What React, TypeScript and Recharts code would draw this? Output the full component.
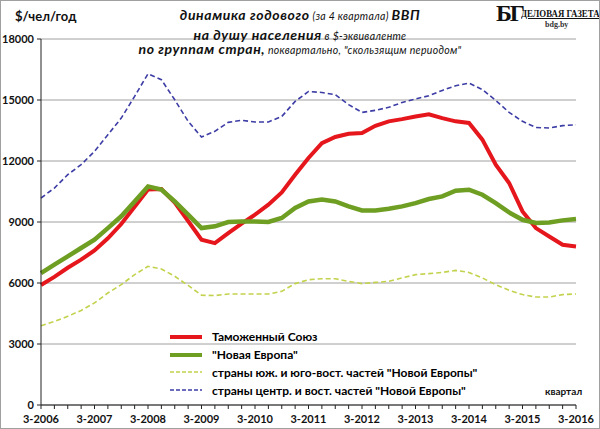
import React from "react";
import { LineChart, Line, XAxis, YAxis, CartesianGrid, Legend } from "recharts";

const quarters = [
  "3-2006", "4-2006", "1-2007", "2-2007", "3-2007", "4-2007", "1-2008", "2-2008",
  "3-2008", "4-2008", "1-2009", "2-2009", "3-2009", "4-2009", "1-2010", "2-2010",
  "3-2010", "4-2010", "1-2011", "2-2011", "3-2011", "4-2011", "1-2012", "2-2012",
  "3-2012", "4-2012", "1-2013", "2-2013", "3-2013", "4-2013", "1-2014", "2-2014",
  "3-2014", "4-2014", "1-2015", "2-2015", "3-2015", "4-2015", "1-2016", "2-2016",
  "3-2016",
];

const customsUnion = [
  5900, 6300, 6750, 7150, 7600, 8200, 8900, 9750, 10600, 10620,
  9950, 9050, 8130, 7960, 8450, 8920, 9360, 9850, 10450, 11320,
  12150, 12880, 13180, 13340, 13380, 13730, 13950, 14060, 14190, 14300,
  14110, 13950, 13870, 13050, 11820, 10920, 9520, 8700, 8290, 7880, 7800,
];

const newEurope = [
  6490, 6900, 7310, 7720, 8130, 8700, 9280, 10010, 10750, 10590,
  10010, 9360, 8700, 8790, 9000, 9030, 9030, 9000, 9200, 9690,
  10010, 10100, 10010, 9770, 9570, 9570, 9650, 9770, 9930, 10130,
  10260, 10540, 10590, 10340, 9930, 9470, 9110, 8950, 8980, 9080, 9150,
];

const southEast = [
  3900, 4110, 4360, 4650, 5020, 5510, 5920, 6410, 6820, 6690,
  6330, 5880, 5400, 5380, 5460, 5460, 5460, 5460, 5590, 5970,
  6160, 6210, 6210, 6080, 5970, 6030, 6080, 6250, 6410, 6460,
  6520, 6620, 6520, 6250, 5920, 5640, 5430, 5310, 5310, 5430, 5460,
];

const centralEast = [
  10180, 10670, 11330, 11820, 12470, 13290, 14110, 15180, 16290, 16000,
  15010, 13950, 13180, 13460, 13900, 14000, 13920, 13920, 14190, 14930,
  15420, 15370, 15260, 14770, 14390, 14490, 14640, 14880, 15050, 15210,
  15470, 15700, 15830, 15510, 14980, 14390, 13950, 13650, 13620, 13740, 13780,
];

const yTicks = [0, 3000, 6000, 9000, 12000, 15000, 18000];

const seriesNames = [
  "Таможенный Союз",
  "\"Новая Европа\"",
  "страны юж. и юго-вост. частей \"Новой Европы\"",
  "страны центр. и вост. частей \"Новой Европы\"",
];

const data = quarters.map((q, i) => ({
  q,
  cu: customsUnion[i],
  ne: newEurope[i],
  se: southEast[i],
  ce: centralEast[i],
}));

const FONT = "Lato, 'Open Sans', sans-serif";

const renderLegend = (props: any) => {
  const payload = [...(props.payload || [])].sort(
    (a: any, b: any) => seriesNames.indexOf(a.value) - seriesNames.indexOf(b.value)
  );
  return (
    <div style={{ fontFamily: FONT, fontWeight: 700, fontSize: 12, color: "#000" }}>
      {payload.map((entry: any, idx: number) => {
        const p = entry.payload || {};
        return (
          <div key={idx} style={{ display: "flex", alignItems: "center", height: 17.8 }}>
            <svg width={52} height={10} style={{ flex: "none" }}>
              <line
                x1={10}
                y1={5}
                x2={42}
                y2={5}
                stroke={entry.color}
                strokeWidth={p.strokeDasharray ? 1.6 : 4}
                strokeDasharray={p.strokeDasharray ? "4 2" : undefined}
              />
            </svg>
            <span style={{ whiteSpace: "nowrap" }}>{entry.value}</span>
          </div>
        );
      })}
    </div>
  );
};

const tickFmt = (v: string) => (v.startsWith("3-") ? v : "");

const bigT: React.CSSProperties = { fontWeight: 700, fontSize: 14, letterSpacing: 0.6 };
const smallT: React.CSSProperties = { fontSize: 10.5, letterSpacing: 0.3 };

export default function App() {
  return (
    <div
      style={{
        position: "absolute",
        left: 0,
        top: 0,
        width: 600,
        height: 429,
        background: "#fff",
        fontFamily: FONT,
      }}
    >
      <LineChart
        width={600}
        height={429}
        data={data}
        margin={{ top: 39, right: 24, bottom: 0, left: 0 }}
      >
        <CartesianGrid vertical={false} stroke="#a0a0a0" strokeWidth={1} />
        <XAxis
          dataKey="q"
          interval={0}
          tickFormatter={tickFmt}
          tickSize={4}
          tickMargin={6}
          height={24}
          axisLine={{ stroke: "#222" }}
          tickLine={{ stroke: "#222" }}
          tick={{ fontSize: 11, fontWeight: 700, fill: "#111", fontFamily: FONT }}
        />
        <YAxis
          domain={[0, 18000]}
          ticks={yTicks}
          interval={0}
          width={41}
          tickSize={4}
          tickMargin={3}
          axisLine={{ stroke: "#222" }}
          tickLine={{ stroke: "#222" }}
          tick={{ fontSize: 11, fontWeight: 700, fill: "#111", fontFamily: FONT }}
        />
        <Legend
          layout="vertical"
          align="center"
          verticalAlign="middle"
          content={renderLegend}
          wrapperStyle={{ left: 160, top: 328, width: 330 }}
        />
        <Line
          type="linear"
          dataKey="cu"
          name={seriesNames[0]}
          stroke="#e5161c"
          strokeWidth={4}
          dot={false}
          isAnimationActive={false}
        />
        <Line
          type="linear"
          dataKey="ne"
          name={seriesNames[1]}
          stroke="#6e9e22"
          strokeWidth={4.5}
          dot={false}
          isAnimationActive={false}
        />
        <Line
          type="linear"
          dataKey="se"
          name={seriesNames[2]}
          stroke="#c3d24c"
          strokeWidth={1.6}
          strokeDasharray="5 3"
          dot={false}
          isAnimationActive={false}
        />
        <Line
          type="linear"
          dataKey="ce"
          name={seriesNames[3]}
          stroke="#3d3da6"
          strokeWidth={1.6}
          strokeDasharray="5 3"
          dot={false}
          isAnimationActive={false}
        />
      </LineChart>

      <div style={{ position: "absolute", left: 15, top: 8, fontSize: 13, fontWeight: 700, color: "#111" }}>
        $/чел/год
      </div>

      <div
        style={{
          position: "absolute",
          left: 100,
          width: 400,
          top: 5,
          textAlign: "center",
          fontStyle: "italic",
          color: "#111",
          lineHeight: "17px",
          whiteSpace: "nowrap",
        }}
      >
        <div>
          <span style={bigT}>динамика годового</span>
          <span style={smallT}> (за 4 квартала) </span>
          <span style={bigT}>ВВП</span>
        </div>
        <div>
          <span style={bigT}>на душу населения</span>
          <span style={smallT}> в $-эквиваленте</span>
        </div>
      </div>
      <div
        style={{
          position: "absolute",
          left: 40,
          width: 520,
          top: 39,
          textAlign: "center",
          fontStyle: "italic",
          color: "#111",
          lineHeight: "17px",
          whiteSpace: "nowrap",
        }}
      >
        <span style={bigT}>по группам стран,</span>
        <span style={smallT}> поквартально, "скользящим периодом"</span>
      </div>

      <div
        style={{
          position: "absolute",
          left: 496,
          top: 0,
          fontFamily: "'Liberation Serif', serif",
          fontWeight: 700,
          fontSize: 24,
          lineHeight: "26px",
          color: "#111",
          letterSpacing: -2,
        }}
      >
        БГ
      </div>
      <div
        style={{
          position: "absolute",
          left: 521,
          top: 7,
          fontFamily: "'Liberation Serif', serif",
          fontWeight: 700,
          fontSize: 11,
          lineHeight: "13px",
          color: "#111",
          textDecoration: "underline",
          whiteSpace: "nowrap",
          transform: "scaleX(0.8)",
          transformOrigin: "left top",
        }}
      >
        ДЕЛОВАЯ ГАЗЕТА
      </div>
      <div
        style={{
          position: "absolute",
          left: 545,
          top: 20,
          fontFamily: "'Liberation Serif', serif",
          fontWeight: 700,
          fontSize: 8,
          lineHeight: "10px",
          color: "#333",
        }}
      >
        bdg.by
      </div>

      <div style={{ position: "absolute", left: 545, top: 385, fontSize: 10, fontWeight: 700, color: "#111" }}>
        квартал
      </div>

      <div
        style={{
          position: "absolute",
          left: 0,
          top: 0,
          width: 600,
          height: 429,
          boxSizing: "border-box",
          border: "1px solid #a0a0a0",
          pointerEvents: "none",
        }}
      />
    </div>
  );
}
